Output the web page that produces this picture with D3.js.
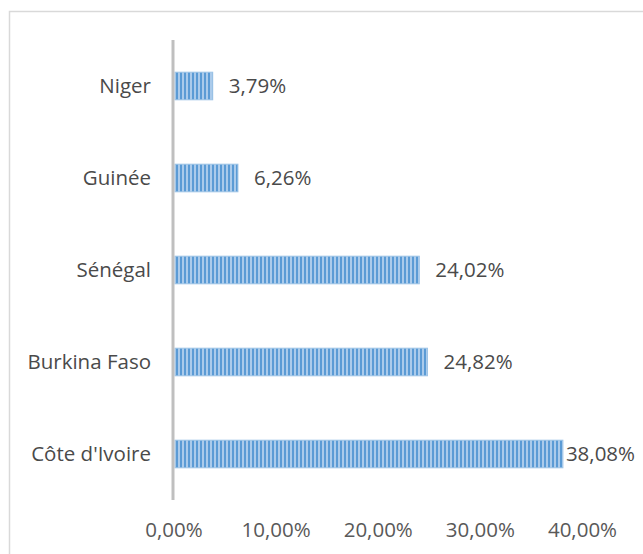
<!DOCTYPE html>
<html><head><meta charset="utf-8">
<script src="https://cdn.jsdelivr.net/npm/d3@7"></script>
<style>body{margin:0;background:#fff}svg{display:block}</style>
</head><body>
<script>
const categories = ["Niger","Guinée","Sénégal","Burkina Faso","Côte d'Ivoire"];
const values = [3.79, 6.26, 24.02, 24.82, 38.08];
const ticks = [0, 10, 20, 30, 40];

const W = 643, H = 554;
const svg = d3.select("body").append("svg").attr("width", W).attr("height", H);
const font = "'Open Sans', sans-serif";
const fs = 20.5;
const fmt = v => v.toFixed(2).replace(".", ",") + "%";

const defs = svg.append("defs");
const pat = defs.append("pattern").attr("id","stripes").attr("patternUnits","userSpaceOnUse")
  .attr("width",4).attr("height",4);
pat.append("rect").attr("width",4).attr("height",4).attr("fill","#8DB8E4");
pat.append("rect").attr("x",0).attr("width",2).attr("height",4).attr("fill","#5B9BD5");
pat.append("rect").attr("x",2.5).attr("width",1).attr("height",4).attr("fill","#C9DEF3");

svg.append("rect").attr("x",9.5).attr("y",11.5).attr("width",W).attr("height",H)
  .attr("fill","none").attr("stroke","#D9D9D9").attr("stroke-width",1.5);

const x = d3.scaleLinear().domain([0,40]).range([174, 582.5]);
const y = d3.scaleBand().domain(categories).range([40, 500]).paddingInner(0.7).paddingOuter(0.35);

svg.selectAll("rect.bar").data(values).join("rect").attr("class","bar")
  .attr("x", x(0)+1).attr("y",(d,i)=>y(categories[i]))
  .attr("width", d=>x(d)-x(0)-1).attr("height", y.bandwidth())
  .attr("fill","url(#stripes)").attr("stroke","#9DC3E6").attr("stroke-width",1);

svg.append("line").attr("x1",x(0)-1).attr("x2",x(0)-1).attr("y1",40).attr("y2",500)
  .attr("stroke","#BFBFBF").attr("stroke-width",3);

svg.selectAll("text.cat").data(categories).join("text").attr("class","cat")
  .attr("x",151).attr("y",d=>y(d)+y.bandwidth()/2).attr("dy","0.35em")
  .attr("text-anchor","end").attr("font-family",font).attr("font-size",fs).attr("fill","#4a4a4a")
  .text(d=>d);

svg.selectAll("text.val").data(values).join("text").attr("class","val")
  .attr("x",(d,i)=> x(d) + (i===4?3:16)).attr("y",(d,i)=>y(categories[i])+y.bandwidth()/2).attr("dy","0.35em")
  .attr("font-family",font).attr("font-size",fs).attr("fill","#4a4a4a")
  .text(d=>fmt(d));

svg.selectAll("text.tick").data(ticks).join("text").attr("class","tick")
  .attr("x",d=>x(d)).attr("y",537).attr("text-anchor","middle")
  .attr("font-family",font).attr("font-size",fs).attr("fill","#595959")
  .text(d=>fmt(d));
</script>
</body></html>
